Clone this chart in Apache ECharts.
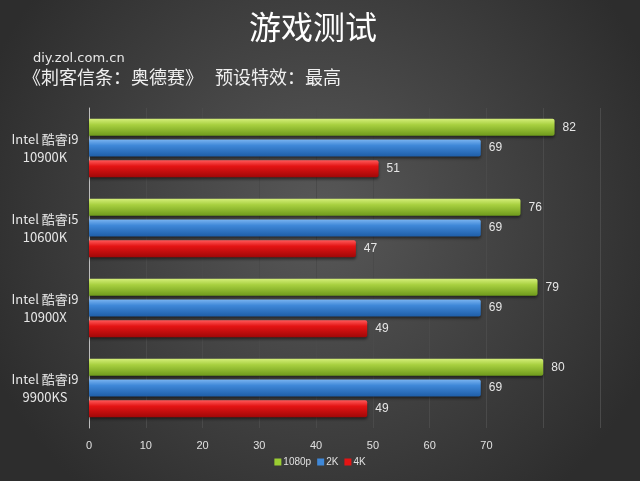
<!DOCTYPE html>
<html><head><meta charset="utf-8">
<script src="https://cdn.jsdelivr.net/npm/echarts@6/dist/echarts.min.js"></script>
<style>html,body{margin:0;padding:0;background:#333;}#c{width:640px;height:481px;}</style>
</head><body><div id="c"></div>
<script>
const categories = ['Intel 酷睿i9\n10900K', 'Intel 酷睿i5\n10600K', 'Intel 酷睿i9\n10900X', 'Intel 酷睿i9\n9900KS'];
const seriesNames = ['1080p', '2K', '4K'];
const v1080p = [82, 76, 79, 80];
const v2K = [69, 69, 69, 69];
const v4K = [51, 47, 49, 49];
const tickMax = 70;

const chart = echarts.init(document.getElementById('c'));
function grad(top, mid, bot) {
  return new echarts.graphic.LinearGradient(0, 0, 0, 1, [
    {offset: 0, color: top}, {offset: 0.35, color: mid}, {offset: 1, color: bot}
  ]);
}
const colors = [
  grad('#d4ee7a', '#a8d040', '#6e9a1c'),
  grad('#7ab4f0', '#3f88d8', '#1f5ea8'),
  grad('#ff5a5a', '#e41414', '#a00808')
];
const legendColors = ['#9acd32', '#3f88d8', '#e41414'];
const data = [v1080p, v2K, v4K];
chart.setOption({
  backgroundColor: new echarts.graphic.RadialGradient(0.5, 0.45, 0.75, [
    {offset: 0, color: '#585858'}, {offset: 1, color: '#2d2d2d'}
  ]),
  animation: false,
  title: [
    {text: '游戏测试', left: 244, top: 6, textStyle: {color: '#ffffff', fontSize: 32, fontWeight: 'normal', fontFamily: 'Noto Sans CJK SC'}},
    {text: 'diy.zol.com.cn', left: 28, top: 47, textStyle: {color: '#e8e8e8', fontSize: 13, fontWeight: 'normal', fontFamily: 'DejaVu Sans'}},
    {text: '《刺客信条：奥德赛》   预设特效：最高', left: 18, top: 63, textStyle: {color: '#f0f0f0', fontSize: 18, fontWeight: 'normal', fontFamily: 'Noto Sans CJK SC'}}
  ],
  legend: {
    bottom: 9, left: 'center', itemWidth: 7, itemHeight: 7, itemGap: 6,
    textStyle: {color: '#e0e0e0', fontSize: 10, padding: [0, 0, 0, -3]},
    data: seriesNames.map((n, i) => ({name: n, icon: 'rect', itemStyle: {color: legendColors[i]}}))
  },
  grid: {left: 89, right: 40, top: 108, bottom: 53, containLabel: false},
  xAxis: {
    type: 'value', min: 0, max: 90, interval: 10,
    axisLine: {show: false}, axisTick: {show: false},
    splitLine: {lineStyle: {color: '#4a4a4a', width: 1}},
    axisLabel: {color: '#e0e0e0', fontSize: 11, margin: 12,
      formatter: v => v <= tickMax ? String(v) : ''}
  },
  yAxis: {
    type: 'category', data: categories, inverse: true,
    axisLine: {show: true, lineStyle: {color: '#bdbdbd', width: 1}},
    axisTick: {show: false},
    axisLabel: {color: '#e6e6e6', fontSize: 13, lineHeight: 18, align: 'center', margin: 44, fontFamily: 'Noto Sans CJK SC'}
  },
  series: seriesNames.map((n, i) => ({
    name: n, type: 'bar', data: data[i], barWidth: 17, barGap: '22%',
    itemStyle: {color: colors[i], borderRadius: [0, 2, 2, 0], shadowColor: 'rgba(0,0,0,0.5)', shadowBlur: 3, shadowOffsetY: 2},
    label: {show: true, position: 'right', distance: 8, color: '#e6e6e6', fontSize: 12}
  }))
});
</script></body></html>
